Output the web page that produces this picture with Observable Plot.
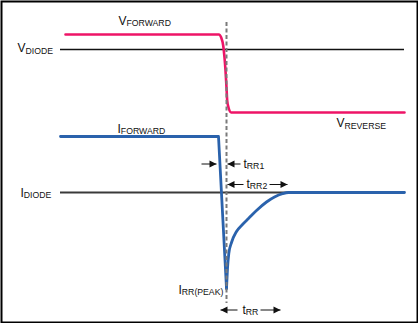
<!DOCTYPE html>
<html>
<head>
<meta charset="utf-8">
<script src="https://cdn.jsdelivr.net/npm/d3@7"></script>
<script src="https://cdn.jsdelivr.net/npm/@observablehq/plot@0.6"></script>
<style>
  body { margin: 0; background: #fff; }
</style>
</head>
<body>
<div id="chart"></div>
<script>
// Diode reverse-recovery timing sketch.
// t: time (0 = switching instant); level: vertical trace level (0 = I_DIODE zero line).

// Voltage across the diode: forward level, fast fall, reverse level.
const voltageTrace = [
  [-161, 158], [-7.7, 158], [-5.3, 155], [-3.3, 147], [-2, 135], [-1, 122],
  [0, 105], [0.7, 92], [2, 85], [4.7, 80], [178, 80]
].map(([t, level]) => ({t, level}));

// Diode current: forward level, then drop to the reverse-recovery peak.
const currentFall = [
  [-166, 56], [-8, 56], [0, -96]
].map(([t, level]) => ({t, level}));

// Diode current recovering from the peak back to zero.
const currentRecovery = [
  [0, -96], [1, -76], [2.3, -61], [5, -50], [10, -39], [16, -32],
  [22, -26], [30, -18], [40, -9.5], [48, -4.5], [56, -1.2], [62, 0], [178, 0]
].map(([t, level]) => ({t, level}));

// Reference (zero) lines for voltage and current.
const zeroLines = [
  {name: "VDIODE", level: 143, from: -166, to: 178, color: "#111", width: 1.5},
  {name: "IDIODE", level: 0, from: -166, to: 178, color: "#3a3a3a", width: 2}
];

// Switching instant marker.
const switchTime = [{t: 0, top: 170, bottom: -111}];

// Timing arrows: shaft from "from" to the arrowhead tip.
const arrows = [
  {label: "tRR1", level: 28.5, from: -25, tip: -10},
  {label: "tRR1", level: 28.5, from: 14, tip: 1},
  {label: "tRR2", level: 8, from: 17, tip: 1},
  {label: "tRR2", level: 8, from: 43, tip: 61},
  {label: "tRR", level: -117.5, from: 11, tip: -6},
  {label: "tRR", level: -117.5, from: 34, tip: 54}
];

// Text labels: a main letter followed by a subscript.
const labels = [
  {main: "V", sub: "FORWARD", t: -108, level: 168},
  {main: "V", sub: "DIODE", t: -209, level: 140.5},
  {main: "I", sub: "FORWARD", t: -109, level: 60},
  {main: "I", sub: "DIODE", t: -206, level: -4},
  {main: "V", sub: "REVERSE", t: 110, level: 65.5},
  {main: "I", sub: "RR(PEAK)", t: -48, level: -101},
  {main: "t", sub: "RR1", t: 17, level: 25},
  {main: "t", sub: "RR2", t: 20, level: 5},
  {main: "t", sub: "RR", t: 16, level: -121}
];

const FONT = "'Liberation Sans', Arial, sans-serif";
const MAIN_SIZE = 12;
const SUB_SIZE = 8.7;

const ctx = document.createElement("canvas").getContext("2d");
function textWidth(str, size) {
  ctx.font = `${size}px ${FONT}`;
  return ctx.measureText(str).width;
}

// Filled arrowheads with the tip at the symbol origin.
const headRight = {
  draw(c) { c.moveTo(0, 0); c.lineTo(-7, -3.5); c.lineTo(-7, 3.5); c.closePath(); }
};
const headLeft = {
  draw(c) { c.moveTo(0, 0); c.lineTo(7, -3.5); c.lineTo(7, 3.5); c.closePath(); }
};

const labelMarks = labels.flatMap(d => [
  Plot.text([d], {
    x: "t", y: "level", text: "main",
    textAnchor: "start", lineAnchor: "bottom",
    fontSize: MAIN_SIZE, fill: "#111"
  }),
  Plot.text([d], {
    x: "t", y: "level", text: "sub",
    textAnchor: "start", lineAnchor: "bottom",
    dx: textWidth(d.main, MAIN_SIZE), dy: 1.5,
    fontSize: SUB_SIZE, fill: "#111"
  })
]);

const chart = Plot.plot({
  width: 418,
  height: 323,
  margin: 0,
  x: {domain: [-226, 192], axis: null},
  y: {domain: [-131, 192], axis: null},
  style: {fontFamily: FONT, background: "#fff"},
  marks: [
    Plot.ruleY(zeroLines, {
      y: "level", x1: "from", x2: "to",
      stroke: "color", strokeWidth: "width"
    }),
    Plot.line(voltageTrace, {
      x: "t", y: "level", curve: "monotone-x",
      stroke: "#EE1467", strokeWidth: 2.6
    }),
    Plot.line(currentFall, {
      x: "t", y: "level",
      stroke: "#2A62AC", strokeWidth: 2.8, strokeLinejoin: "round"
    }),
    Plot.line(currentRecovery, {
      x: "t", y: "level", curve: "monotone-x",
      stroke: "#2A62AC", strokeWidth: 2.8
    }),
    Plot.ruleX(switchTime, {
      x: "t", y1: "top", y2: "bottom",
      stroke: "#7a7a7a", strokeWidth: 2, strokeDasharray: "4,2.5"
    }),
    Plot.link(arrows, {
      x1: "from", x2: "tip", y1: "level", y2: "level",
      stroke: "#111", strokeWidth: 1
    }),
    Plot.dot(arrows.filter(d => d.tip > d.from), {
      x: "tip", y: "level", symbol: headRight, r: 3, fill: "#111", stroke: "none"
    }),
    Plot.dot(arrows.filter(d => d.tip < d.from), {
      x: "tip", y: "level", symbol: headLeft, r: 3, fill: "#111", stroke: "none"
    }),
    ...labelMarks,
    Plot.frame({stroke: "#000", strokeWidth: 2, inset: 1})
  ]
});

document.getElementById("chart").append(chart);
</script>
</body>
</html>
